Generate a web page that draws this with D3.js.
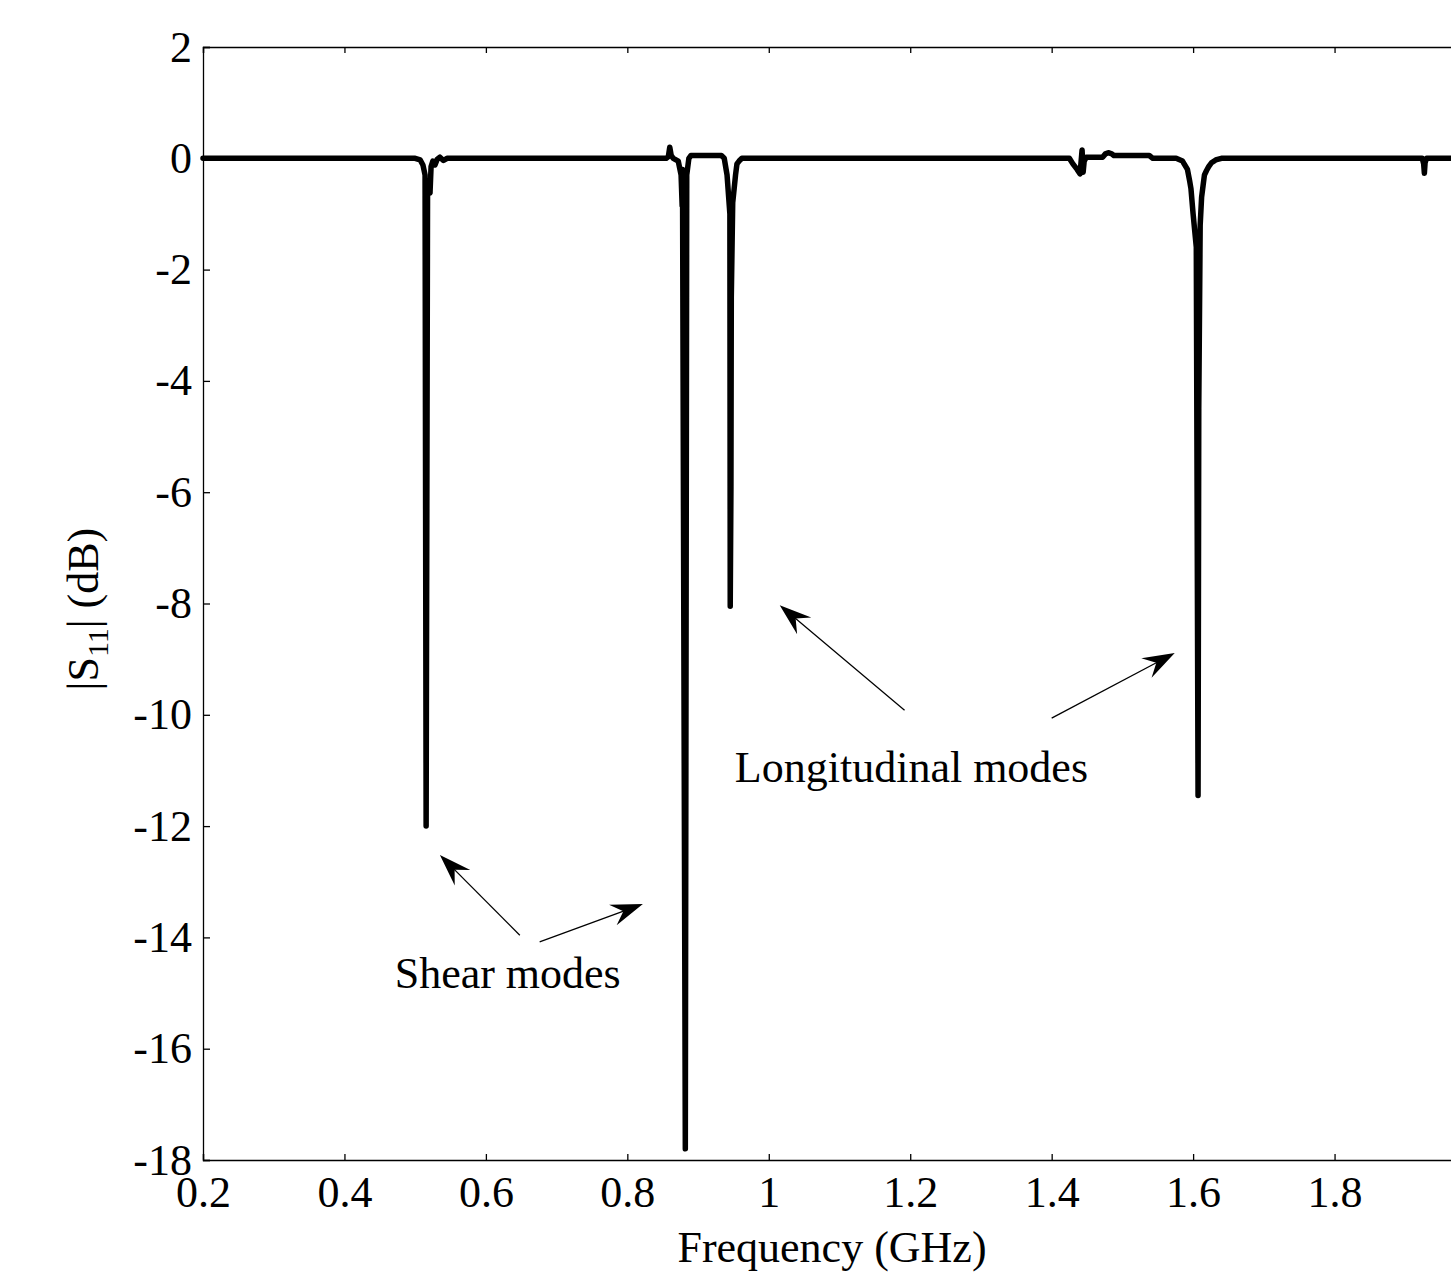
<!DOCTYPE html>
<html>
<head>
<meta charset="utf-8">
<script src="https://cdn.jsdelivr.net/npm/d3@7"></script>
<style>
  html, body { margin: 0; padding: 0; background: #fff; }
  svg { display: block; }
</style>
</head>
<body>
<svg id="chart"></svg>
<script>
// Frequency (GHz) and |S11| (dB)
const freq = [
  0.2, 0.500, 0.507, 0.511, 0.514, 0.5155, 0.5175, 0.521, 0.5225, 0.525, 0.528, 0.531, 0.535, 0.540, 0.545,
  0.855, 0.858, 0.860, 0.862, 0.865, 0.872, 0.876, 0.8775, 0.878, 0.882, 0.884, 0.887, 0.890,
  0.933, 0.937, 0.941, 0.945, 0.9455, 0.9465, 0.947, 0.949, 0.951, 0.953, 0.955, 0.958, 0.962,
  1.425, 1.430, 1.436, 1.440, 1.441, 1.443, 1.4445, 1.446, 1.449, 1.472, 1.476, 1.480, 1.485, 1.488,
  1.538, 1.543, 1.576, 1.585, 1.592, 1.595, 1.597, 1.600, 1.6045, 1.607, 1.608, 1.610, 1.612, 1.614,
  1.616, 1.619, 1.622, 1.626, 1.632, 1.640,
  1.924, 1.926, 1.927, 1.928, 1.930, 2.0
];
const s11 = [
  0, 0, -0.03, -0.12, -0.3, -12.0, -0.6, -0.62, -0.15, -0.05, -0.12, -0.02, 0.02, -0.04, 0,
  0, 0.03, 0.2, 0.05, 0, -0.05, -0.3, -0.85, -0.2, -17.8, -0.3, 0.0, 0.05,
  0.05, 0.0, -0.3, -1.0, -8.05, -5.9, -2.5, -0.8, -0.55, -0.3, -0.1, -0.05, 0,
  0, -0.1, -0.2, -0.28, -0.15, 0.15, -0.25, -0.05, 0.02, 0.02, 0.08, 0.1, 0.08, 0.05,
  0.05, 0, 0, -0.05, -0.2, -0.4, -0.55, -1.0, -1.6, -11.45, -4.5, -1.2, -0.7, -0.5,
  -0.3, -0.22, -0.15, -0.08, -0.03, 0,
  0, -0.1, -0.27, -0.08, 0, 0
];

// the 2 GHz end of the axis lies past the right edge of the picture
const xTicks = [0.2, 0.4, 0.6, 0.8, 1, 1.2, 1.4, 1.6, 1.8];
const yTicks = [2, 0, -2, -4, -6, -8, -10, -12, -14, -16, -18];

// annotations: [tailFreq, tailDb, headFreq, headDb]
const arrows = [
  [0.648, -13.96, 0.535, -12.52],
  [0.676, -14.08, 0.822, -13.40],
  [1.192, -9.92, 1.0155, -8.03],
  [1.400, -10.06, 1.574, -8.89]
];
const labels = [
  { text: "Longitudinal modes", f: 0.952, db: -11.21 },
  { text: "Shear modes", f: 0.471, db: -14.91 }
];

const width = 1451, height = 1279;
const margin = { top: 47, left: 203, bottom: 119 };
const font = "'Liberation Serif', 'Times New Roman', serif";
const fmt = d => String(d); // plain hyphen minus, like the original

const svg = d3.select("#chart")
    .attr("width", width)
    .attr("height", height)
    .style("font-family", font);

const x = d3.scaleLinear().domain([0.2, 2]).range([margin.left, 1476]);
const y = d3.scaleLinear().domain([-18, 2]).range([height - margin.bottom, margin.top]);

// axes box
svg.append("g")
    .attr("transform", `translate(0,${y(-18)})`)
    .call(d3.axisBottom(x).tickValues(xTicks).tickSize(-6).tickPadding(16).tickFormat(fmt))
    .call(g => g.select(".domain").attr("stroke-width", 1.3))
    .call(g => g.selectAll(".tick line").attr("stroke-width", 1.3))
    .call(g => g.selectAll("text").attr("font-size", 44).attr("font-family", font).attr("fill", "#000"));

svg.append("g")
    .attr("transform", `translate(0,${y(2)})`)
    .call(d3.axisTop(x).tickValues(xTicks).tickSize(-6).tickFormat(""))
    .call(g => g.select(".domain").attr("stroke-width", 1.3))
    .call(g => g.selectAll(".tick line").attr("stroke-width", 1.3));

svg.append("g")
    .attr("transform", `translate(${x(0.2)},0)`)
    .call(d3.axisLeft(y).tickValues(yTicks).tickSize(-7).tickPadding(11).tickFormat(fmt))
    .call(g => g.select(".domain").attr("stroke-width", 1.3))
    .call(g => g.selectAll(".tick line").attr("stroke-width", 1.3))
    .call(g => g.selectAll("text").attr("font-size", 44).attr("font-family", font).attr("fill", "#000"));

// trace
const line = d3.line().x((d, i) => x(freq[i])).y(d => y(d));
svg.append("path")
    .datum(s11)
    .attr("fill", "none")
    .attr("stroke", "#000")
    .attr("stroke-width", 5.5)
    .attr("stroke-linejoin", "round")
    .attr("stroke-linecap", "round")
    .attr("d", line);

// arrows
const headLen = 32, headW = 22;
arrows.forEach(([f0, v0, f1, v1]) => {
  const x0 = x(f0), y0 = y(v0), x1 = x(f1), y1 = y(v1);
  const ang = Math.atan2(y1 - y0, x1 - x0);
  const g = svg.append("g");
  g.append("line")
      .attr("x1", x0).attr("y1", y0)
      .attr("x2", x1 - Math.cos(ang) * headLen * 0.6)
      .attr("y2", y1 - Math.sin(ang) * headLen * 0.6)
      .attr("stroke", "#000").attr("stroke-width", 1.3);
  const pts = [[0, 0], [-headLen, headW / 2], [-headLen * 0.65, 0], [-headLen, -headW / 2]];
  g.append("polygon")
      .attr("points", pts.map(p => p.join(",")).join(" "))
      .attr("transform", `translate(${x1},${y1}) rotate(${ang * 180 / Math.PI})`)
      .attr("fill", "#000");
});

svg.selectAll(".note")
  .data(labels)
  .join("text")
    .attr("class", "note")
    .attr("x", d => x(d.f))
    .attr("y", d => y(d.db))
    .attr("font-size", 44)
    .text(d => d.text);

// axis titles
svg.append("text")
    .attr("x", 832)
    .attr("y", 1262)
    .attr("text-anchor", "middle")
    .attr("font-size", 44)
    .text("Frequency (GHz)");

const yl = svg.append("text")
    .attr("transform", `translate(98,${y(-8.1)}) rotate(-90)`)
    .attr("text-anchor", "middle")
    .attr("font-size", 44);
yl.append("tspan").text("|S");
yl.append("tspan").attr("font-size", 30).attr("dy", 10).text("11");
yl.append("tspan").attr("dy", -10).text("| (dB)");
</script>
</body>
</html>
